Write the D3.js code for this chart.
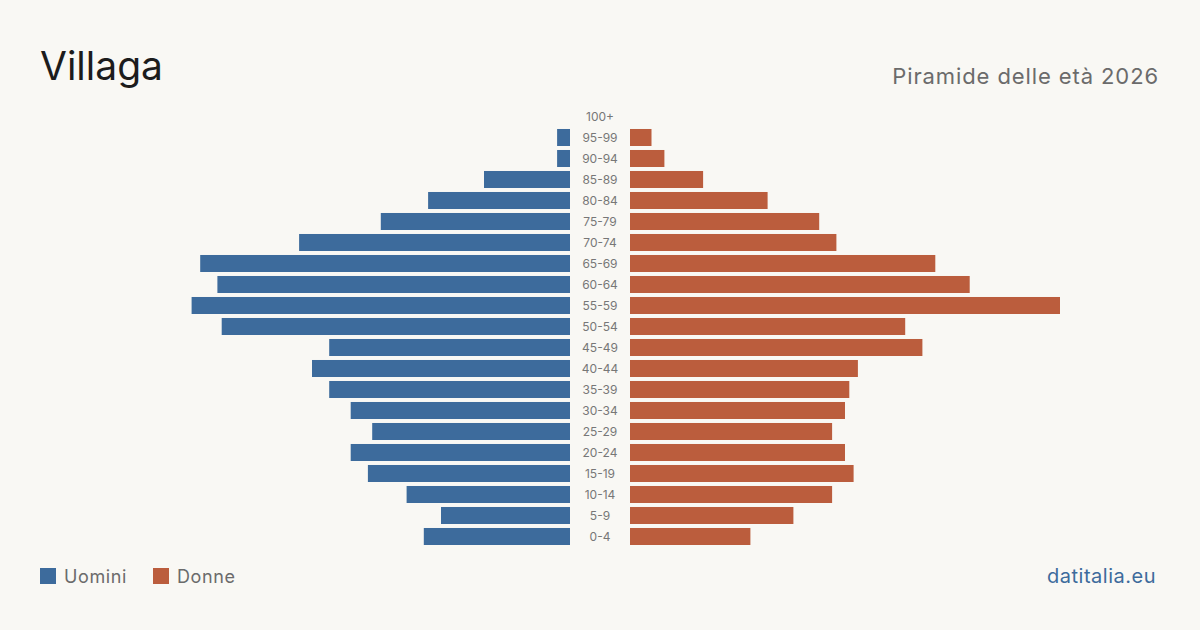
<!DOCTYPE html>
<html>
<head>
<meta charset="utf-8">
<script src="https://cdn.jsdelivr.net/npm/d3@7"></script>
<style>
  html, body { margin: 0; padding: 0; background: #f9f8f4; }
  svg { display: block; }
</style>
</head>
<body>
<svg id="chart" width="1200" height="630"></svg>
<script>
// age classes, from top to bottom
const ageGroups = ['100+', '95-99', '90-94', '85-89', '80-84', '75-79', '70-74', '65-69', '60-64', '55-59',
  '50-54', '45-49', '40-44', '35-39', '30-34', '25-29', '20-24', '15-19', '10-14', '5-9', '0-4']
const men = [0, 3, 3, 20, 33, 44, 63, 86, 82, 88, 81, 56, 60, 56, 51, 46, 51, 47, 38, 30, 34]
const women = [0, 5, 8, 17, 32, 44, 48, 71, 79, 100, 64, 68, 53, 51, 50, 47, 50, 52, 47, 38, 28]
const legendLabels = ['Uomini', 'Donne']

const colMen = '#3d6b9c'
const colWomen = '#bb5d3d'
const font = 'Inter, "Noto Sans", sans-serif'

const svg = d3.select('#chart')

// Title and subtitle
svg.append('text')
  .attr('x', 40).attr('y', 80)
  .attr('font-family', font).attr('font-size', 39)
  .attr('fill', '#1c1c1c')
  .text('Villaga')

svg.append('text')
  .attr('x', 1159).attr('y', 84)
  .attr('text-anchor', 'end')
  .attr('font-family', font).attr('font-size', 22)
  .attr('letter-spacing', '0.9px')
  .attr('fill', '#6b6b6b')
  .text('Piramide delle età 2026')

// Scales
const centerLeft = 570
const centerRight = 630
const maxVal = d3.max(men.concat(women))

const x = d3.scaleLinear().domain([0, maxVal]).range([0, 430])

const pad = 0.19
const y = d3.scaleBand()
  .domain(ageGroups)
  .range([104, 104 + 21 * (ageGroups.length + pad)])
  .padding(pad)

const rows = ageGroups.map((g, i) => ({ group: g, m: men[i], f: women[i] }))

// Men bars
svg.append('g')
  .selectAll('rect')
  .data(rows)
  .enter().append('rect')
  .attr('x', d => centerLeft - x(d.m))
  .attr('y', d => y(d.group))
  .attr('width', d => x(d.m))
  .attr('height', y.bandwidth())
  .attr('fill', colMen)

// Women bars
svg.append('g')
  .selectAll('rect')
  .data(rows)
  .enter().append('rect')
  .attr('x', centerRight)
  .attr('y', d => y(d.group))
  .attr('width', d => x(d.f))
  .attr('height', y.bandwidth())
  .attr('fill', colWomen)

// Age labels in the middle
svg.append('g')
  .selectAll('text')
  .data(rows)
  .enter().append('text')
  .attr('x', 600)
  .attr('y', d => y(d.group) + y.bandwidth() / 2)
  .attr('dy', '0.35em')
  .attr('text-anchor', 'middle')
  .attr('font-family', font).attr('font-size', 12)
  .attr('fill', '#777')
  .text(d => d.group)

// Legend
const legend = svg.append('g')
  .selectAll('g')
  .data(legendLabels)
  .enter().append('g')
  .attr('transform', (d, i) => 'translate(' + (40 + i * 113) + ',568)')

legend.append('rect')
  .attr('width', 16).attr('height', 16)
  .attr('fill', (d, i) => i === 0 ? colMen : colWomen)

legend.append('text')
  .attr('x', 24).attr('y', 15)
  .attr('font-family', font).attr('font-size', 18)
  .attr('letter-spacing', '0.6px')
  .attr('fill', '#6b6b6b')
  .text(d => d)

// Source
svg.append('text')
  .attr('x', 1156).attr('y', 583)
  .attr('text-anchor', 'end')
  .attr('font-family', font).attr('font-size', 20)
  .attr('letter-spacing', '0.5px')
  .attr('fill', colMen)
  .text('datitalia.eu')
</script>
</body>
</html>
